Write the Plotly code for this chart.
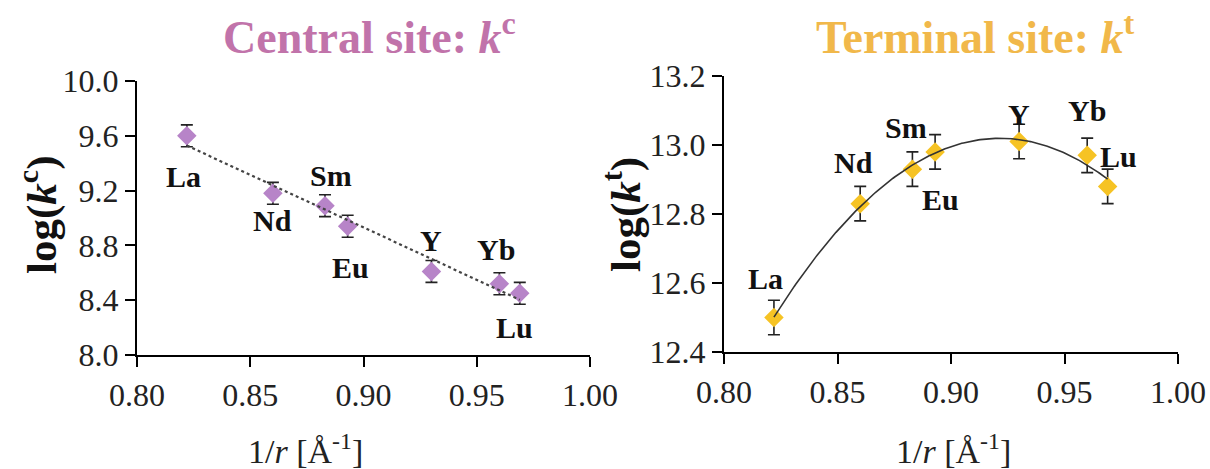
import numpy as np
import plotly.graph_objects as go

# ---------------- data ----------------
elements = ["La", "Nd", "Sm", "Eu", "Y", "Yb", "Lu"]
inv_r = [0.822, 0.860, 0.883, 0.893, 0.930, 0.960, 0.969]
log_kc = [9.60, 9.18, 9.09, 8.94, 8.61, 8.52, 8.45]
log_kc_err = [0.08, 0.08, 0.08, 0.08, 0.08, 0.08, 0.08]
log_kt = [12.50, 12.83, 12.93, 12.98, 13.01, 12.97, 12.88]
log_kt_err = [0.05, 0.05, 0.05, 0.05, 0.05, 0.05, 0.05]

x_ticks = [0.80, 0.85, 0.90, 0.95, 1.00]
yc_ticks = [8.0, 8.4, 8.8, 9.2, 9.6, 10.0]
yt_ticks = [12.4, 12.6, 12.8, 13.0, 13.2]

# label offsets in pixels (dx, dy up-positive)
off_c = {"La": (-3, -41), "Nd": (0, -27), "Sm": (6, 30), "Eu": (3, -41),
         "Y": (0, 31), "Yb": (-3, 34), "Lu": (-5, -34)}
off_t = {"La": (-8, 39), "Nd": (-7, 41), "Sm": (-6, 42), "Eu": (5, -48),
         "Y": (0, 27), "Yb": (0, 45), "Lu": (11, 30)}

W, H = 1210, 469
SERIF = "Liberation Serif"
C_PURPLE = "#b784c8"
C_YELLOW = "#f6c324"
C_TITLE_C = "#c173aa"
C_TITLE_T = "#f1b84a"

fig = go.Figure()

# markers with error bars
fig.add_trace(go.Scatter(
    x=inv_r, y=log_kc, mode="markers", xaxis="x", yaxis="y",
    marker=dict(symbol="diamond", size=15, color=C_PURPLE),
    error_y=dict(type="data", array=log_kc_err, visible=True,
                 color="#222", thickness=1.6, width=6),
    showlegend=False))
fig.add_trace(go.Scatter(
    x=inv_r, y=log_kt, mode="markers", xaxis="x2", yaxis="y2",
    marker=dict(symbol="diamond", size=15, color=C_YELLOW),
    error_y=dict(type="data", array=log_kt_err, visible=True,
                 color="#222", thickness=1.6, width=6),
    showlegend=False))

# trendlines (fits of the data)
xs = np.linspace(min(inv_r), max(inv_r), 200)
lin = np.polyfit(inv_r, log_kc, 1)
quad = np.polyfit(inv_r, log_kt, 2)
fig.add_trace(go.Scatter(
    x=xs, y=np.polyval(lin, xs), mode="lines", xaxis="x", yaxis="y",
    line=dict(color="#444", width=2.2, dash="dot"), showlegend=False))
fig.add_trace(go.Scatter(
    x=xs, y=np.polyval(quad, xs), mode="lines", xaxis="x2", yaxis="y2",
    line=dict(color="#333", width=1.6), showlegend=False))

# axes
x_dom_c = [137 / W, 590 / W]
y_dom_c = [(H - 355) / H, (H - 81) / H]
x_dom_t = [724 / W, 1178 / W]
y_dom_t = [(H - 352) / H, (H - 76) / H]

axis_common = dict(showgrid=False, zeroline=False, showline=True,
                   linecolor="black", linewidth=2.2, ticks="outside",
                   ticklen=10, tickwidth=2.2, tickcolor="black",
                   tickfont=dict(family=SERIF, size=32, color="#222"))

fig.update_layout(
    width=W, height=H,
    margin=dict(l=0, r=0, t=0, b=0, autoexpand=False),
    paper_bgcolor="white", plot_bgcolor="white",
    xaxis=dict(domain=x_dom_c, range=[0.8, 1.0], tickvals=x_ticks,
               tickformat=".2f", anchor="y", **axis_common),
    yaxis=dict(domain=y_dom_c, range=[8.0, 10.0], tickvals=yc_ticks,
               tickformat=".1f", anchor="x", **axis_common),
    xaxis2=dict(domain=x_dom_t, range=[0.8, 1.0], tickvals=x_ticks,
                tickformat=".2f", anchor="y2", **axis_common),
    yaxis2=dict(domain=y_dom_t, range=[12.4, 13.2], tickvals=yt_ticks,
                tickformat=".1f", anchor="x2", **axis_common),
)

ann = []
for el, x, y in zip(elements, inv_r, log_kc):
    dx, dy = off_c[el]
    ann.append(dict(x=x, y=y, xref="x", yref="y", text=f"<b>{el}</b>",
                    showarrow=False, xshift=dx, yshift=dy,
                    xanchor="center", yanchor="middle",
                    font=dict(family=SERIF, size=30, color="#111")))
for el, x, y in zip(elements, inv_r, log_kt):
    dx, dy = off_t[el]
    ann.append(dict(x=x, y=y, xref="x2", yref="y2", text=f"<b>{el}</b>",
                    showarrow=False, xshift=dx, yshift=dy,
                    xanchor="center", yanchor="middle",
                    font=dict(family=SERIF, size=30, color="#111")))


def paper_text(px, py, text, size, color, angle=0):
    return dict(x=px / W, y=1 - py / H, xref="paper", yref="paper",
                text=text, showarrow=False, xanchor="center",
                yanchor="middle", textangle=angle,
                font=dict(family=SERIF, size=size, color=color))


# titles
ann.append(paper_text(369, 34, "<b>Central site: <i>k</i><sup>c</sup></b>",
                      46, C_TITLE_C))
ann.append(paper_text(975, 34, "<b>Terminal site: <i>k</i><sup>t</sup></b>",
                      46, C_TITLE_T))
# axis titles
ann.append(paper_text(38, 215, "<b>log(<i>k</i><sup>c</sup>)</b>", 43,
                      "#111", -90))
ann.append(paper_text(622, 215, "<b>log(<i>k</i><sup>t</sup>)</b>", 43,
                      "#111", -90))
ann.append(paper_text(305, 449, "1/<i>r</i> [Å<sup>-1</sup>]", 34, "#222"))
ann.append(paper_text(953, 449, "1/<i>r</i> [Å<sup>-1</sup>]", 34, "#222"))

fig.update_layout(annotations=ann)
fig.write_html("out.html", config={"displayModeBar": False},
               post_script="document.body.style.margin='0px';"
                           "document.body.style.overflow='hidden';")
